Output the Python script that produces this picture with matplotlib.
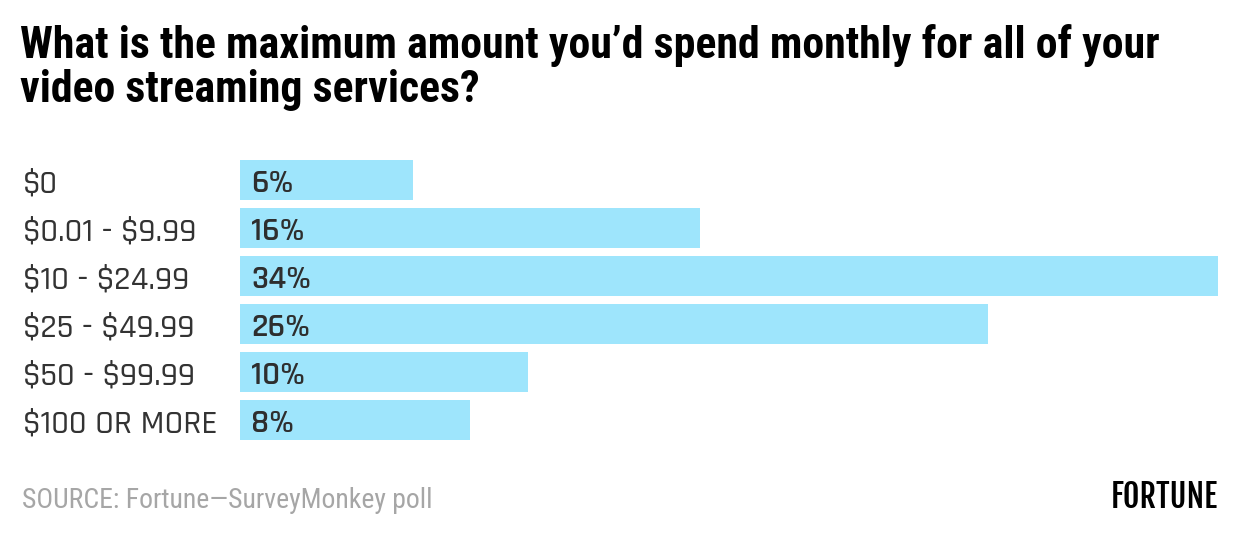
import matplotlib
matplotlib.use("Agg")
import matplotlib.pyplot as plt
from matplotlib import transforms

categories = ["$0", "$0.01 - $9.99", "$10 - $24.99", "$25 - $49.99", "$50 - $99.99", "$100 OR MORE"]
values = [6, 16, 34, 26, 10, 8]
value_labels = ["6%", "16%", "34%", "26%", "10%", "8%"]
title_lines = ["What is the maximum amount you\u2019d spend monthly for all of your",
               "video streaming services?"]
source = "SOURCE: Fortune\u2014SurveyMonkey poll"
brand = "FORTUNE"

plt.rcParams["text.parse_math"] = False

W, H = 1240, 536
fig = plt.figure(figsize=(W / 100, H / 100), dpi=100)
fig.patch.set_facecolor("white")

ax = fig.add_axes([240 / W, 1 - 444 / H, (1218 - 240) / W, (444 - 156) / H])
y = list(range(len(categories)))
ax.barh(y, values, height=40 / 48, color="#9ee5fc", align="center")
ax.set_xlim(0, max(values))
ax.set_ylim(len(categories) - 0.5, -0.5)
ax.axis("off")

tr = transforms.blended_transform_factory(fig.transFigure, ax.transData)
for i, (cat, lab) in enumerate(zip(categories, value_labels)):
    ax.text(251 / W, i + 0.25, lab, transform=tr, ha="left", va="baseline",
            fontsize=24.5, color="#2e2e2e", family="Rajdhani", fontweight=600)
    ax.text(23 / W, i + 0.25, cat, transform=tr, ha="left", va="baseline",
            fontsize=24.5, color="#333333", family="Rajdhani", fontweight=500)

for k, line in enumerate(title_lines):
    fig.text(20 / W, 1 - (58 + 44 * k) / H, line, ha="left", va="baseline", fontsize=31.6,
             fontweight="bold", family="Roboto Condensed", color="black")
fig.text(22 / W, 1 - 508 / H, source, ha="left", va="baseline", fontsize=20,
         color="#a6a6a6", family="Roboto Condensed")
fig.text(1218 / W, 1 - 508 / H, brand, ha="right", va="baseline", fontsize=23,
         family="Fjalla One", color="black")

fig.savefig("out.png", dpi=100, facecolor="white")
